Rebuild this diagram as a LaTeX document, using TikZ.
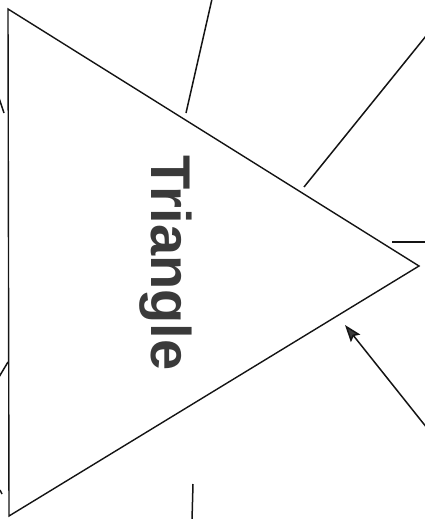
\documentclass[tikz,border=0pt]{standalone}
\usepackage{fontspec}
\setmainfont{Liberation Sans}
\usetikzlibrary{arrows.meta}
\definecolor{trink}{HTML}{141414}
\definecolor{trgrey}{HTML}{3A3A3A}

\begin{document}
\begin{tikzpicture}[x=1pt,y=-1pt,
  shape edge/.style={draw=trink,line width=1.4pt,line join=miter},
  lead/.style={draw=trink,line width=1.5pt},
  pointer/.style={lead,-{Stealth[length=17pt,width=12pt,inset=3pt,fill=trgrey]}}]
\useasboundingbox (0,0) rectangle (425,519);
\coordinate (tri top) at (8,9);
\coordinate (tri bot) at (9,516);
\coordinate (tri apex) at (419,266);
\draw[shape edge] (tri top) -- (tri apex) -- (tri bot) -- cycle;
\node[rotate=-90,inner sep=0pt,text=trgrey,
      font=\fontsize{56}{62}\selectfont\bfseries] (title) at (166,263) {Triangle};
\coordinate (l1 out) at (212,-1);   \coordinate (l1 in) at (186,113);
\coordinate (l2 out) at (426,36);   \coordinate (l2 in) at (304,187);
\coordinate (l3 out) at (426,242);  \coordinate (l3 in) at (392,242);
\coordinate (l4 out) at (427,428);  \coordinate (l4 in) at (345,325);
\coordinate (l5 out) at (192,520);  \coordinate (l5 in) at (193,484);
\coordinate (s1 out) at (-1,98);    \coordinate (s1 in) at (4,113);
\coordinate (s2 out) at (-1,377);   \coordinate (s2 in) at (8,362);
\coordinate (s3 out) at (0,490);    \coordinate (s3 in) at (2,494);
\draw[lead] (l1 out) -- (l1 in);
\draw[lead] (l2 out) -- (l2 in);
\draw[lead] (l3 out) -- (l3 in);
\draw[pointer] (l4 out) -- (l4 in);
\draw[lead] (l5 out) -- (l5 in);
\draw[lead] (s1 out) -- (s1 in);
\draw[lead] (s2 out) -- (s2 in);
\draw[lead] (s3 out) -- (s3 in);
\end{tikzpicture}
\end{document}
